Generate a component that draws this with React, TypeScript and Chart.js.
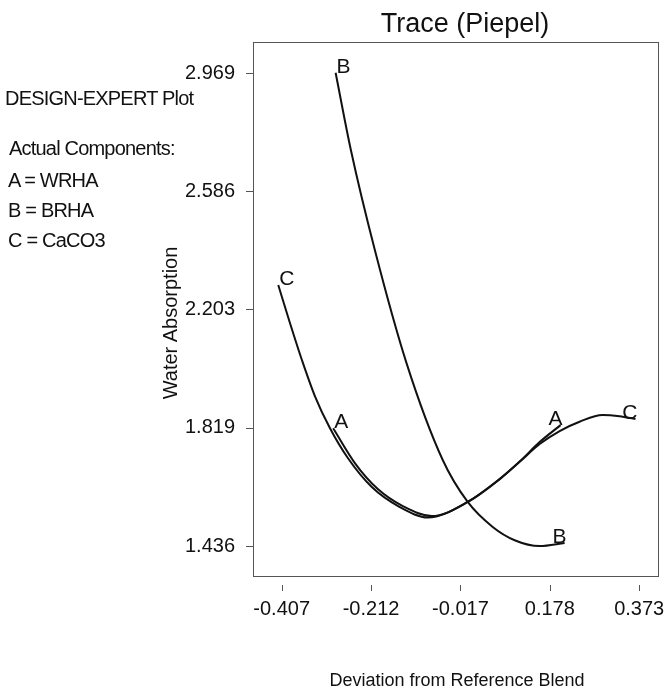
import React, { useEffect, useRef } from 'react';
import { Chart, registerables } from 'chart.js';

Chart.register(...registerables);

// ---- data ----
const xTicks = [-0.407, -0.212, -0.017, 0.178, 0.373];
const yTicks = [1.436, 1.819, 2.203, 2.586, 2.969];
const xMin = -0.4695;
const xMax = 0.414;
const yMin = 1.339;
const yMax = 3.0695;

const seriesNames = ['A', 'B', 'C'];

const aX = [-0.2946, -0.2473, -0.1972, -0.1427, -0.0795, -0.0011, 0.0686, 0.1122, 0.1558, 0.2015];
const aY = [1.8175, 1.705, 1.6208, 1.5657, 1.5332, 1.579, 1.653, 1.7099, 1.773, 1.828];

const bX = [-0.2893, -0.256, -0.2037, -0.1346, -0.0556, -0.0011, 0.0534, 0.1013, 0.1558, 0.2103];
const bY = [2.97, 2.7196, 2.3955, 2.029, 1.715, 1.579, 1.498, 1.455, 1.436, 1.446];

const cX = [-0.4144, -0.3889, -0.3628, -0.3345, -0.3018, -0.2626, -0.2103, -0.1493, -0.0882, -0.0011, 0.0686, 0.1122, 0.1558, 0.1994, 0.2429, 0.293, 0.3301, 0.3649];
const cY = [2.282, 2.1589, 2.0389, 1.9222, 1.8185, 1.7213, 1.6272, 1.5624, 1.5284, 1.579, 1.653, 1.709, 1.7666, 1.8088, 1.839, 1.861, 1.857, 1.848];

const FONT = '"Liberation Sans", Arial, Helvetica, sans-serif';

const toPoints = (xs: number[], ys: number[]) => xs.map((x, i) => ({ x, y: ys[i] }));

const framePlugin = {
  id: 'frame',
  afterDraw(chart: any) {
    const { ctx, chartArea } = chart;
    const xs = chart.scales.x;
    const ys = chart.scales.y;
    ctx.save();
    ctx.strokeStyle = '#555';
    ctx.lineWidth = 1;
    ctx.strokeRect(
      Math.round(chartArea.left) + 0.5,
      Math.round(chartArea.top) + 0.5,
      Math.round(chartArea.right - chartArea.left),
      Math.round(chartArea.bottom - chartArea.top)
    );
    ctx.beginPath();
    xTicks.forEach((v) => {
      const px = Math.round(xs.getPixelForValue(v)) + 0.5;
      ctx.moveTo(px, chartArea.bottom + 9);
      ctx.lineTo(px, chartArea.bottom + 15);
    });
    yTicks.forEach((v) => {
      const py = Math.round(ys.getPixelForValue(v)) + 0.5;
      ctx.moveTo(chartArea.left - 7, py);
      ctx.lineTo(chartArea.left, py);
    });
    ctx.stroke();
    ctx.restore();
  },
};

const curveLabelPlugin = {
  id: 'curveLabels',
  afterDatasetsDraw(chart: any) {
    const { ctx } = chart;
    ctx.save();
    ctx.font = `21px ${FONT}`;
    ctx.fillStyle = '#111';
    ctx.textBaseline = 'alphabetic';
    chart.data.datasets.forEach((ds: any, i: number) => {
      const pts = chart.getDatasetMeta(i).data;
      if (!pts.length) return;
      const first = pts[0];
      const last = pts[pts.length - 1];
      ctx.textAlign = 'left';
      ctx.fillText(ds.label, first.x + 1, first.y);
      ctx.textAlign = 'right';
      ctx.fillText(ds.label, last.x + 2, last.y);
    });
    ctx.restore();
  },
};

export default function App() {
  const canvasRef = useRef<HTMLCanvasElement | null>(null);

  useEffect(() => {
    if (!canvasRef.current) return;
    const series = [toPoints(aX, aY), toPoints(bX, bY), toPoints(cX, cY)];
    const chart = new Chart(canvasRef.current, {
      type: 'line',
      data: {
        datasets: series.map((pts, i) => ({
          label: seriesNames[i],
          data: pts,
          borderColor: '#111',
          borderWidth: 2,
          pointRadius: 0,
          fill: false,
          cubicInterpolationMode: 'monotone' as const,
        })),
      },
      options: {
        responsive: false,
        animation: false,
        layout: { padding: { left: 173, right: 7, top: 42, bottom: 55 } },
        plugins: {
          legend: { display: false },
          tooltip: { enabled: false },
          title: { display: false },
        },
        scales: {
          x: {
            type: 'linear',
            min: xMin,
            max: xMax,
            grid: { display: false, drawTicks: false },
            border: { display: false },
            afterFit: (s: any) => {
              s.height = 60;
              s.paddingLeft = 0;
              s.paddingRight = 0;
            },
            afterBuildTicks: (s: any) => {
              s.ticks = xTicks.map((v) => ({ value: v }));
            },
            ticks: {
              autoSkip: false,
              maxRotation: 0,
              padding: 21,
              color: '#111',
              font: { family: FONT, size: 20 },
              callback: (v: any) => Number(v).toFixed(3),
            },
          },
          y: {
            type: 'linear',
            min: yMin,
            max: yMax,
            grid: { display: false, drawTicks: false },
            border: { display: false },
            afterFit: (s: any) => {
              s.width = 80;
              s.paddingTop = 0;
              s.paddingBottom = 0;
            },
            afterBuildTicks: (s: any) => {
              s.ticks = yTicks.map((v) => ({ value: v }));
            },
            ticks: {
              autoSkip: false,
              padding: 18,
              color: '#111',
              font: { family: FONT, size: 20 },
              callback: (v: any) => Number(v).toFixed(3),
            },
          },
        },
      },
      plugins: [framePlugin, curveLabelPlugin],
    });
    return () => chart.destroy();
  }, []);

  const textBase: React.CSSProperties = {
    position: 'absolute',
    fontFamily: FONT,
    color: '#111',
    lineHeight: 1,
    whiteSpace: 'nowrap',
    margin: 0,
  };

  const annot = [
    { t: 'DESIGN-EXPERT Plot', base: 105, left: 5 },
    { t: 'Actual Components:', base: 155, left: 9 },
    { t: 'A = WRHA', base: 187, left: 8 },
    { t: 'B = BRHA', base: 217, left: 8 },
    { t: 'C = CaCO3', base: 247, left: 8 },
  ];

  return (
    <div style={{ position: 'absolute', left: 0, top: 0, width: 665, height: 691, background: '#fff' }}>
      <canvas ref={canvasRef} width={665} height={691} style={{ display: 'block', position: 'absolute', left: 0, top: 0 }} />
      <div style={{ ...textBase, left: 265, top: 10, width: 400, textAlign: 'center', fontSize: 27 }}>Trace (Piepel)</div>
      {annot.map((a) => (
        <div key={a.t} style={{ ...textBase, left: a.left, top: a.base - 17, fontSize: 20, letterSpacing: -0.8 }}>
          {a.t}
        </div>
      ))}
      <div
        style={{
          ...textBase,
          left: 70,
          top: 313,
          width: 200,
          height: 20,
          textAlign: 'center',
          fontSize: 20,
          transform: 'rotate(-90deg)',
        }}
      >
        Water Absorption
      </div>
      <div style={{ ...textBase, left: 257, top: 671, width: 400, textAlign: 'center', fontSize: 18 }}>
        Deviation from Reference Blend
      </div>
    </div>
  );
}
